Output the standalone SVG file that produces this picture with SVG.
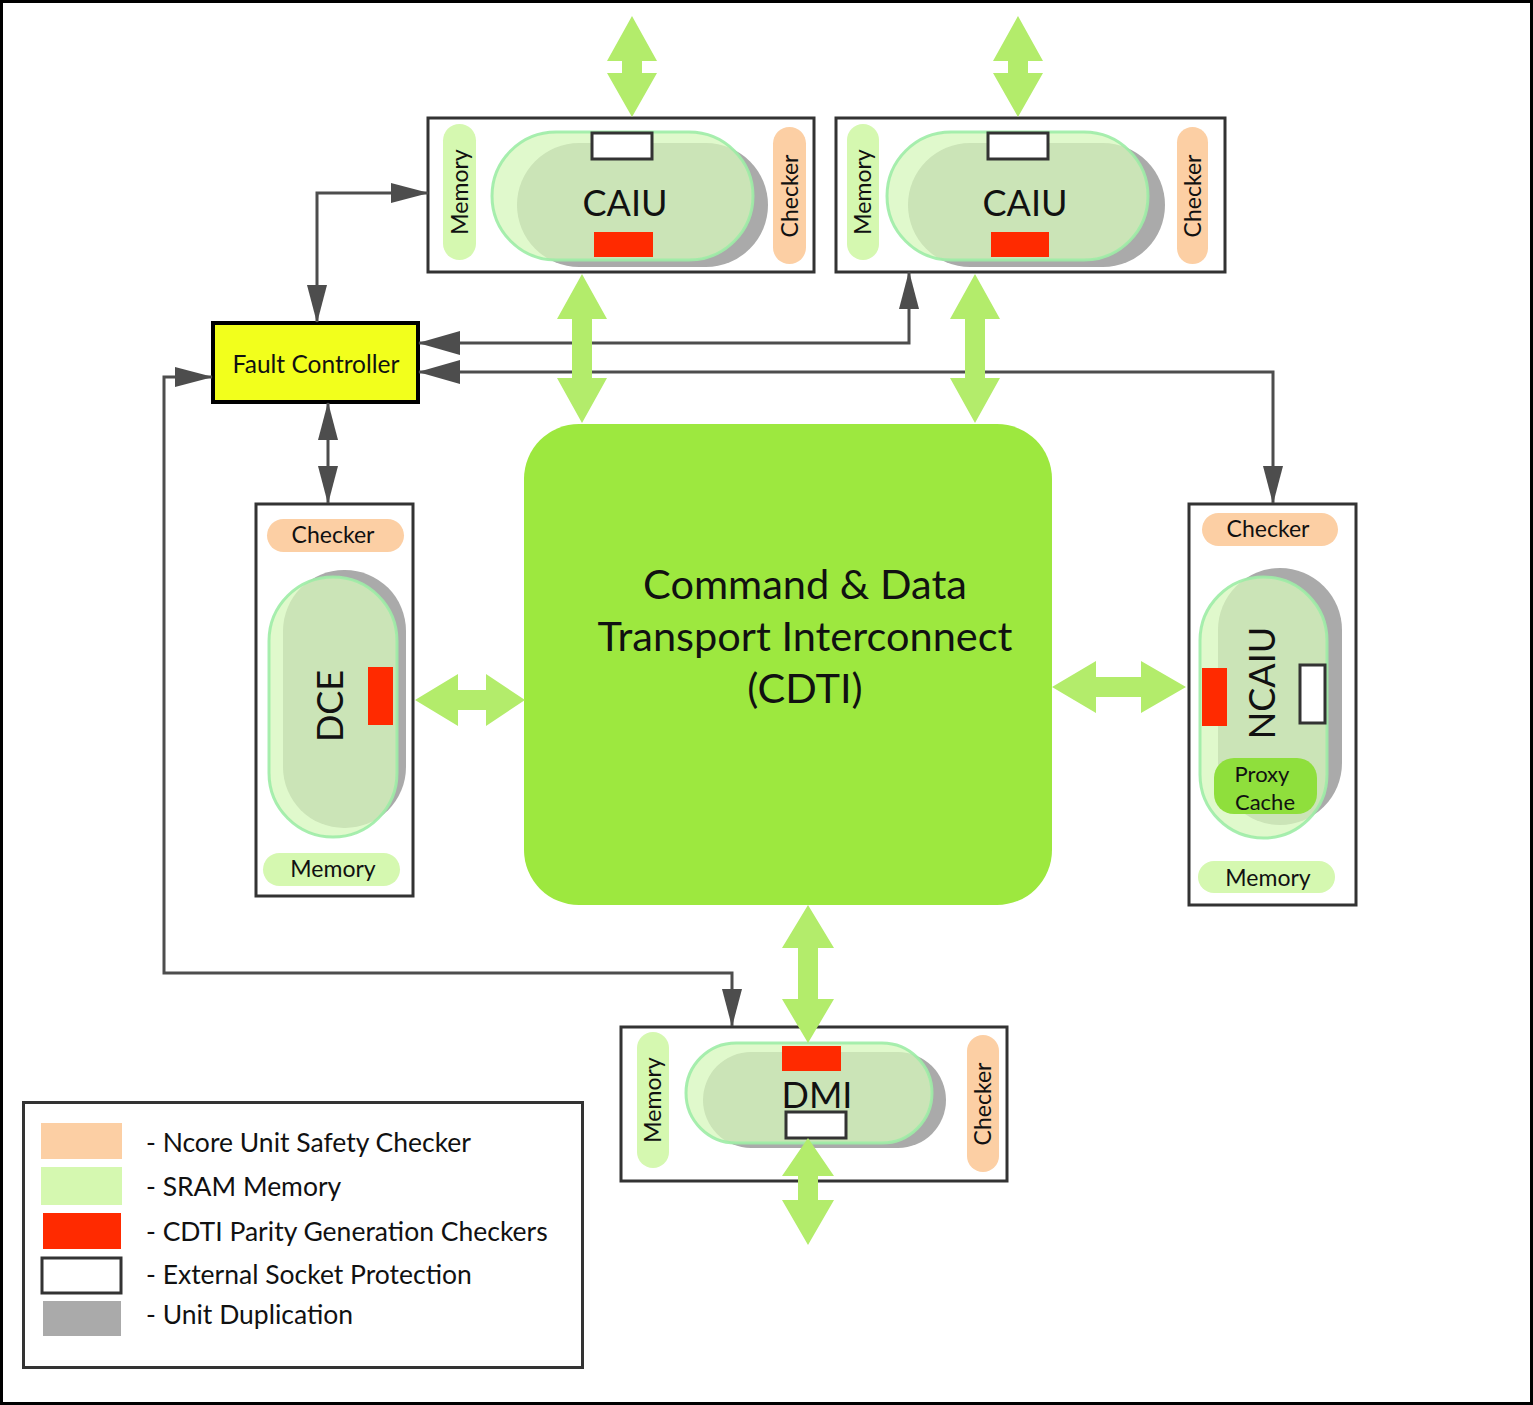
<svg xmlns="http://www.w3.org/2000/svg" width="1533" height="1405" viewBox="0 0 1533 1405">
<defs>
<style>
text{font-family:Lato,"Liberation Sans",sans-serif;fill:#111}
.box{fill:#fff;stroke:#333;stroke-width:3}
.mem{fill:#d5f8b0}
.chk{fill:#fccfa4}
.dup{fill:#aaaaaa}
.unit{fill:#d6f7bb;fill-opacity:0.75;stroke:#9deca6;stroke-width:3;stroke-opacity:0.9}
.par{fill:#ff2a00}
.sock{fill:#fff;stroke:#333;stroke-width:3}
.lbl{font-size:23px;text-anchor:middle}
.big{font-size:36px;text-anchor:middle}
.ln{fill:none;stroke:#4d4d4d;stroke-width:3}
.ga{fill:#b3ec6b}
.leg{font-size:26.5px}
</style>
<marker id="ah" markerUnits="userSpaceOnUse" markerWidth="38" markerHeight="20" refX="37" refY="10" orient="auto-start-reverse" viewBox="0 0 38 20"><path d="M0,0 L38,10 L0,20 z" fill="#4d4d4d"/></marker>
<marker id="ahL" markerUnits="userSpaceOnUse" markerWidth="42" markerHeight="24" refX="41" refY="12" orient="auto-start-reverse" viewBox="0 0 42 24"><path d="M0,0 L42,12 L0,24 z" fill="#4d4d4d"/></marker>
</defs>
<rect x="1.5" y="1.5" width="1530" height="1402" fill="#fff" stroke="#000" stroke-width="3"/>

<g id="caiu1">
<rect class="box" x="428" y="118" width="386" height="154"/>
<rect class="mem" x="443" y="124" width="33" height="136" rx="16.5"/>
<text class="lbl" transform="rotate(-90 460 192)" x="460" y="200">Memory</text>
<rect class="chk" x="773" y="127" width="33" height="137" rx="16.5"/>
<text class="lbl" transform="rotate(-90 790 196)" x="790" y="204">Checker</text>
<rect class="dup" x="517" y="143" width="251" height="124" rx="62"/>
<rect class="unit" x="492" y="132" width="261" height="128" rx="64"/>
<rect class="sock" x="592" y="133" width="60" height="26"/>
<rect class="par" x="594" y="232" width="59" height="25"/>
<text class="big" x="625" y="216">CAIU</text>
</g>

<g id="caiu2">
<rect class="box" x="836" y="118" width="389" height="154"/>
<rect class="mem" x="847" y="124" width="32" height="136" rx="16"/>
<text class="lbl" transform="rotate(-90 863 192)" x="863" y="200">Memory</text>
<rect class="chk" x="1177" y="127" width="31" height="137" rx="15.5"/>
<text class="lbl" transform="rotate(-90 1193 196)" x="1193" y="204">Checker</text>
<rect class="dup" x="908" y="143" width="257" height="124" rx="62"/>
<rect class="unit" x="887" y="132" width="261" height="128" rx="64"/>
<rect class="sock" x="988" y="133" width="60" height="26"/>
<rect class="par" x="991" y="232" width="58" height="25"/>
<text class="big" x="1025" y="216">CAIU</text>
</g>

<g id="fault-controller">
<rect x="213" y="323" width="205" height="79" fill="#f2ff1c" stroke="#000" stroke-width="4"/>
<text x="316" y="373" font-size="24.5" text-anchor="middle">Fault Controller</text>
</g>

<g id="cdti">
<rect x="524" y="424" width="528" height="481" rx="55" fill="#9de83f"/>
<text x="805" y="599" font-size="41.5" text-anchor="middle">Command &amp; Data</text>
<text x="805" y="651" font-size="41.5" text-anchor="middle">Transport Interconnect</text>
<text x="805" y="703" font-size="41.5" text-anchor="middle">(CDTI)</text>
</g>

<g id="dce">
<rect class="box" x="256" y="504" width="157" height="392"/>
<rect class="chk" x="267" y="519" width="137" height="33" rx="16.5"/>
<text class="lbl" x="333" y="543">Checker</text>
<rect class="mem" x="263" y="853" width="137" height="33" rx="16.5"/>
<text class="lbl" x="333" y="877">Memory</text>
<rect class="dup" x="283" y="570" width="123" height="258" rx="61"/>
<rect class="unit" x="269" y="577" width="128" height="260" rx="64"/>
<rect class="par" x="368" y="667" width="25" height="58"/>
<text class="big" transform="rotate(-90 330 706)" x="330" y="719">DCE</text>
</g>

<g id="ncaiu">
<rect class="box" x="1189" y="504" width="167" height="401"/>
<rect class="chk" x="1202" y="513" width="136" height="33" rx="16.5"/>
<text class="lbl" x="1268" y="537">Checker</text>
<rect class="mem" x="1198" y="861" width="137" height="32" rx="16"/>
<text class="lbl" x="1268" y="886">Memory</text>
<rect class="dup" x="1218" y="568" width="124" height="257" rx="62"/>
<rect class="unit" x="1200" y="577" width="127" height="261" rx="63.5"/>
<rect class="par" x="1202" y="668" width="25" height="58"/>
<rect class="sock" x="1300" y="665" width="25" height="58"/>
<text class="big" transform="rotate(-90 1262 683)" x="1262" y="696">NCAIU</text>
<rect x="1214" y="758" width="103" height="56" rx="20" fill="#8fdf3c"/>
<text x="1262" y="782" font-size="22" text-anchor="middle">Proxy</text>
<text x="1265" y="810" font-size="22" text-anchor="middle">Cache</text>
</g>

<g id="dmi">
<rect class="box" x="621" y="1027" width="386" height="154"/>
<rect class="mem" x="637" y="1032" width="32" height="136" rx="16"/>
<text class="lbl" transform="rotate(-90 653 1100)" x="653" y="1108">Memory</text>
<rect class="chk" x="967" y="1035" width="32" height="137" rx="16"/>
<text class="lbl" transform="rotate(-90 983 1104)" x="983" y="1112">Checker</text>
<rect class="dup" x="703" y="1052" width="243" height="96" rx="48"/>
<rect class="unit" x="686" y="1043" width="246" height="100" rx="50"/>
<rect class="par" x="782" y="1046" width="59" height="25"/>
<text x="817" y="1108" font-size="36" text-anchor="middle">DMI</text>
<rect class="sock" x="786" y="1112" width="60" height="26"/>
</g>

<g id="legend">
<rect x="23.5" y="1102.5" width="559" height="265" fill="#fff" stroke="#333" stroke-width="3"/>
<rect x="41" y="1123" width="81" height="36" fill="#fccfa4"/>
<rect x="41" y="1167" width="81" height="38" fill="#d5f8b0"/>
<rect x="43" y="1213" width="78" height="36" fill="#ff2a00"/>
<rect x="42" y="1258" width="79" height="35" fill="#fff" stroke="#333" stroke-width="3"/>
<rect x="43" y="1301" width="78" height="35" fill="#aaaaaa"/>
<text class="leg" x="146" y="1152">- Ncore Unit Safety Checker</text>
<text class="leg" x="146" y="1196">- SRAM Memory</text>
<text class="leg" x="146" y="1241">- CDTI Parity Generation Checkers</text>
<text class="leg" x="146" y="1284">- External Socket Protection</text>
<text class="leg" x="146" y="1324">- Unit Duplication</text>
</g>

<g id="connectors">
<path class="ln" d="M317,322 L317,193 L428,193" marker-start="url(#ah)" marker-end="url(#ah)"/>
<path class="ln" d="M909,272 L909,343 L419,343" marker-start="url(#ah)" marker-end="url(#ahL)"/>
<path class="ln" d="M1273,503 L1273,372 L419,372" marker-start="url(#ah)" marker-end="url(#ahL)"/>
<path class="ln" d="M328,403 L328,503" marker-start="url(#ah)" marker-end="url(#ah)"/>
<path class="ln" d="M732,1026 L732,973 L164,973 L164,377 L212,377" marker-start="url(#ah)" marker-end="url(#ah)"/>

<polygon class="ga" points="632,16 657,61 642,61 642,73 657,73 632,117 607,73 622,73 622,61 607,61"/>
<polygon class="ga" points="1018,16 1043,61 1028,61 1028,73 1043,73 1018,117 993,73 1008,73 1008,61 993,61"/>
<polygon class="ga" points="582,274 607,319 592,319 592,378 607,378 582,423 557,378 572,378 572,319 557,319"/>
<polygon class="ga" points="975,274 1000,319 985,319 985,378 1000,378 975,423 950,378 965,378 965,319 950,319"/>
<polygon class="ga" points="808,905 834,948 818,948 818,999 834,999 808,1043 782,999 798,999 798,948 782,948"/>
<polygon class="ga" points="808,1138 834,1176 818,1176 818,1200 834,1200 808,1245 782,1200 798,1200 798,1176 782,1176"/>
<polygon class="ga" points="415,700 458,674 458,690 486,690 486,674 525,700 486,726 486,710 458,710 458,726"/>
<polygon class="ga" points="1052,687 1096,661 1096,677 1141,677 1141,661 1186,687 1141,713 1141,697 1096,697 1096,713"/>
</g>
</svg>
